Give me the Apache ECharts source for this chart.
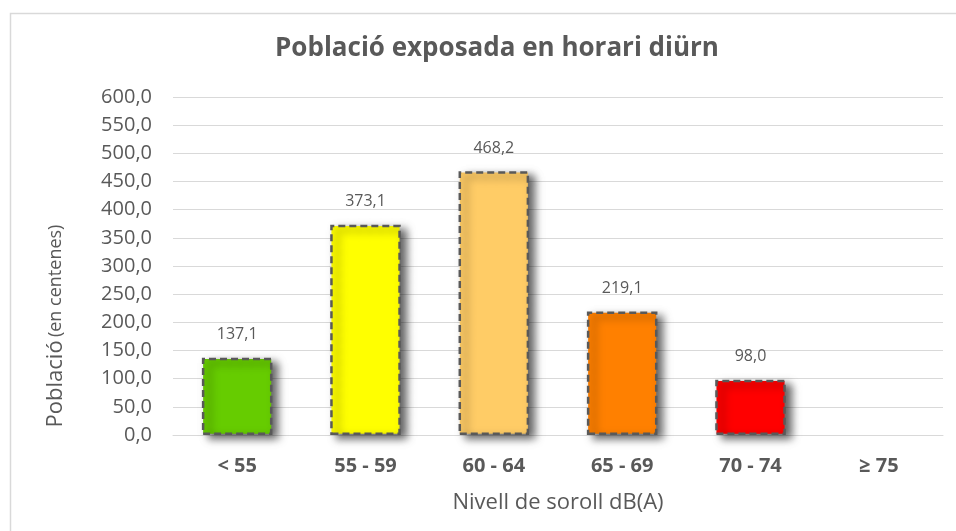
<!DOCTYPE html>
<html><head><meta charset="utf-8">
<script src="https://cdn.jsdelivr.net/npm/echarts@6/dist/echarts.min.js"></script>
<style>html,body{margin:0;padding:0;background:#fff}#c{width:956px;height:531px}</style>
</head><body><div id="c"></div>
<script>
var categories = ['< 55', '55 - 59', '60 - 64', '65 - 69', '70 - 74', '≥ 75'];
var values = [137.1, 373.1, 468.2, 219.1, 98.0, null];
var barColors = ['#66CC00', '#FFFF00', '#FFCC66', '#FF8000', '#FF0000', '#999999'];
var yTicks = { min: 0, max: 600, interval: 50 };

var chart = echarts.init(document.getElementById('c'));
var fmt = function (v) { return Number(v).toFixed(1).replace('.', ','); };
chart.setOption({
  animation: false,
  backgroundColor: '#fff',
  title: {
    text: 'Població exposada en horari diürn',
    left: 492, top: 31, textAlign: 'center',
    textStyle: { fontFamily: 'Open Sans', fontWeight: 'bold', fontSize: 26, color: '#595959' }
  },
  grid: { left: 173, right: 13, top: 97, bottom: 96 },
  xAxis: {
    type: 'category', data: categories,
    axisLine: { lineStyle: { color: '#d9d9d9', width: 1 } },
    axisTick: { show: false },
    axisLabel: { margin: 21, fontFamily: 'Open Sans', fontWeight: 'bold', fontSize: 20, color: '#595959' }
  },
  yAxis: {
    type: 'value', min: yTicks.min, max: yTicks.max, interval: yTicks.interval,
    axisLine: { show: false }, axisTick: { show: false },
    splitLine: { lineStyle: { color: '#d9d9d9', width: 1 } },
    axisLabel: { margin: 21, fontFamily: 'Open Sans', fontSize: 20, color: '#595959', formatter: fmt }
  },
  series: [{
    type: 'bar', barWidth: '55%',
    data: values.map(function (v, i) {
      return { value: v, itemStyle: { color: barColors[i] } };
    }),
    itemStyle: {
      borderColor: '#595959', borderWidth: 2.5, borderType: [7, 4],
      shadowColor: 'rgba(0,0,0,0.6)', shadowBlur: 8, shadowOffsetX: 6, shadowOffsetY: 4
    },
    label: {
      show: true, position: 'top', distance: 15,
      fontFamily: 'Open Sans', fontSize: 16, color: '#595959',
      formatter: function (p) { return p.value == null ? '' : fmt(p.value); }
    }
  }],
  graphic: [
    { type: 'rect', shape: { x: 10.5, y: 13.5, width: 980, height: 560 }, style: { fill: null, stroke: '#d9d9d9', lineWidth: 1.5 }, silent: true, z: -1 },
    { type: 'text', x: 56, y: 326, rotation: Math.PI / 2,
      style: { text: '{a|Població} {b|(en centenes)}', align: 'center', verticalAlign: 'middle',
        rich: { a: { fontFamily: 'Open Sans', fontSize: 22, fill: '#595959' }, b: { fontFamily: 'Open Sans', fontSize: 18, fill: '#595959' } } } },
    { type: 'text', x: 558, y: 503,
      style: { text: 'Nivell de soroll dB(A)', align: 'center', verticalAlign: 'middle',
        fontFamily: 'Open Sans', fontSize: 22, fill: '#595959' } }
  ]
});
</script></body></html>
